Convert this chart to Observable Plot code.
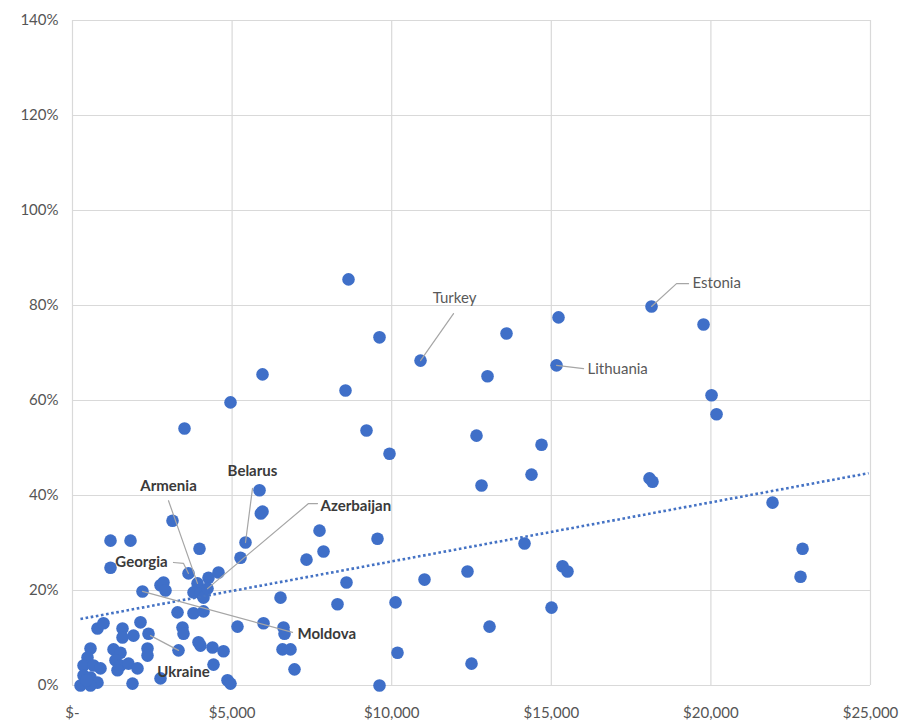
<!DOCTYPE html>
<html><head><meta charset="utf-8">
<script src="https://cdn.jsdelivr.net/npm/d3@7"></script>
<script src="https://cdn.jsdelivr.net/npm/@observablehq/plot@0.6"></script>
<style>html,body{margin:0;padding:0;background:#fff;overflow:hidden}#chart svg{display:block}</style>
</head><body><div id="chart"></div>
<script>
// GDP per capita (US$) and share (%)
const gdpPerCapita = [
  8647,5953,4950,3509,8553,9618,10903,9211,9932,12657,13002,13597,15226,15164,18140,19769,20020,20177,
  14694,14380,12814,18077,18171,21931,22871,22808,14161,15352,15508,12375,11028,15007,13065,12501,9618,
  10182,10120,9556,8584,8302,7739,7864,7331,6517,5859,5900,5953,5420,5263,3979,5169,5984,6611,6642,6579,
  6830,6955,4010,4386,4731,4418,4856,4950,3791,4104,3290,3133,1191,1817,1191,2193,2757,2851,2914,3634,
  3916,3791,4010,4104,4261,4574,4230,
  783,971,1567,1567,1911,2130,2381,564,470,1285,1504,1347,2350,2350,345,658,345,564,877,783,251,564,439,
  1504,1754,2036,1410,1880,2757,3321,3446,3478,3948
];
const shareValues = [
  85.5,65.5,59.6,54.1,62.1,73.3,68.4,53.7,48.8,52.6,65.1,74.1,77.5,67.4,79.8,76.0,61.1,57.1,
  50.7,44.4,42.1,43.6,42.9,38.5,28.8,22.9,29.9,25.1,24.0,24.0,22.3,16.4,12.4,4.6,0,
  6.9,17.5,30.9,21.7,17.1,32.6,28.2,26.5,18.5,41.1,36.2,36.6,30.1,26.9,28.8,12.4,13.1,12.2,10.9,7.6,
  7.6,3.4,8.4,8.0,7.2,4.4,1.1,0.4,15.2,15.6,15.4,34.7,30.5,30.5,24.8,19.8,21.1,21.7,20.0,23.6,
  21.5,19.6,19.4,18.5,22.7,23.8,20.4,
  12.0,13.1,12.0,10.1,10.5,13.3,10.9,7.8,5.9,7.6,6.9,5.3,7.8,6.3,4.2,4.2,2.1,1.7,3.6,0.6,0,0,1.1,
  4.2,4.6,3.6,3.2,0.4,1.5,7.4,12.2,10.9,9.1
];

// Linear trend line
const trendGdp = [250, 24940];
const trendShare = [14.0, 44.7];

// Axis ticks
const xTicks = [0, 5000, 10000, 15000, 20000, 25000];
const yTicks = [0, 20, 40, 60, 80, 100, 120, 140];

// Labelled countries
const labelCountries = ["Turkey","Estonia","Lithuania","Armenia","Belarus","Azerbaijan","Georgia","Moldova","Ukraine"];
const labelGdp   = [11968, 19425, 16135, 3008, 5639, 7770, 2162, 7049, 3478];
const labelShare = [81.5, 84.6, 66.5, 41.9, 45.1, 37.7, 25.9, 10.9, 2.7];
const labelAnchor = ["middle","start","start","middle","middle","start","middle","start","middle"];
const labelBold   = [false,false,false,true,true,true,true,true,true];

// Leader lines (label end -> point)
const leaderGdp = [
  [11937, 10903], [19300, 18923, 18140], [16010, 15164], [3008, 3916], [5639, 5420],
  [7676, 7394, 4230], [3164, 3478, 3634], [6893, 2193], [2444, 3321]
];
const leaderShare = [
  [78.3, 68.4], [84.6, 84.6, 79.8], [66.7, 67.4], [38.9, 21.5], [41.5, 30.1],
  [38.3, 38.3, 20.4], [25.9, 25.7, 23.6], [11.2, 19.8], [10.5, 7.4]
];

const points = gdpPerCapita.map((g, i) => ({gdp: g, share: shareValues[i]}));
const trend = trendGdp.map((g, i) => ({gdp: g, share: trendShare[i]}));
const labels = labelCountries.map((c, i) => ({country: c, gdp: labelGdp[i], share: labelShare[i], anchor: labelAnchor[i], bold: labelBold[i]}));
const leaders = labelCountries.flatMap((c, i) => leaderGdp[i].map((g, j) => ({country: c, gdp: g, share: leaderShare[i][j]})));

const fmtX = d => d === 0 ? "$-" : "$" + d3.format(",")(d);

const textMark = (anchor, bold) => Plot.text(labels.filter(d => d.anchor === anchor && d.bold === bold), {
  x: "gdp", y: "share", text: "country", textAnchor: anchor,
  fill: bold ? "#3a3a3a" : "#595959", fontWeight: bold ? "bold" : "normal",
  fontSize: 15, fontFamily: "Lato"
});

const chart = Plot.plot({
  width: 901, height: 722,
  marginLeft: 72, marginRight: 31, marginTop: 20, marginBottom: 37,
  style: {fontFamily: "Lato", fontSize: "15px", color: "#555555", background: "#fff"},
  x: {domain: [0, 25000], ticks: xTicks, tickFormat: fmtX, tickSize: 0, tickPadding: 22, label: null},
  y: {domain: [0, 140], ticks: yTicks, tickFormat: d => d + "%", tickSize: 0, tickPadding: 14, label: null},
  marks: [
    Plot.gridX(xTicks, {stroke: "#d9d9d9", strokeOpacity: 1, strokeWidth: 1.2}),
    Plot.gridY(yTicks, {stroke: "#d9d9d9", strokeOpacity: 1, strokeWidth: 1.2}),
    Plot.dot(points, {x: "gdp", y: "share", r: 6.3, fill: "#3f6fc8", stroke: "none"}),
    Plot.line(trend, {x: "gdp", y: "share", stroke: "#4472c4", strokeWidth: 2.6, strokeDasharray: "2.6 2.6", strokeLinecap: "butt"}),
    Plot.line(leaders, {x: "gdp", y: "share", z: "country", stroke: "#a6a6a6", strokeWidth: 1.2}),
    textMark("middle", false), textMark("start", false),
    textMark("middle", true), textMark("start", true)
  ]
});
document.getElementById("chart").appendChild(chart);
</script>
</body></html>
